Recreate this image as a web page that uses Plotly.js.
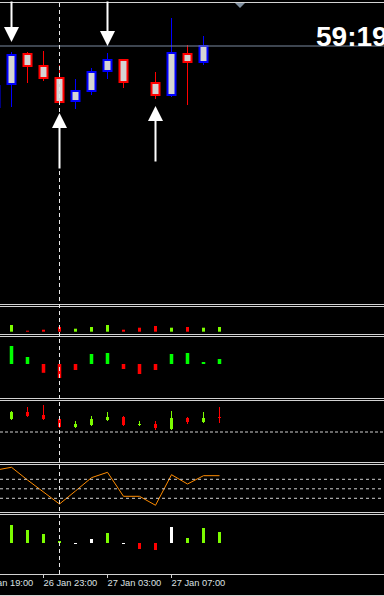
<!DOCTYPE html>
<html><head><meta charset="utf-8">
<script src="https://cdn.plot.ly/plotly-3.0.1.min.js"></script>
<style>html,body{margin:0;padding:0;background:#000;overflow:hidden}#chart{width:384px;height:596px}</style>
</head><body><div id="chart"></div>
<script>
// ---------- DATA ----------
const times = ['2026-01-26 20:00','2026-01-26 21:00','2026-01-26 22:00','2026-01-26 23:00','2026-01-27 00:00','2026-01-27 01:00','2026-01-27 02:00','2026-01-27 03:00','2026-01-27 04:00','2026-01-27 05:00','2026-01-27 06:00','2026-01-27 07:00','2026-01-27 08:00','2026-01-27 09:00','2026-01-27 10:00'];

// main price candles
const open  = [151.97,152.20,152.50,152.38,152.26,152.03,152.13,152.33,152.44,null,152.21,152.09,152.50,152.42,null];
const high  = [152.18,152.52,152.52,152.53,152.39,152.25,152.36,152.51,152.45,null,152.32,152.86,152.59,152.68,null];
const low   = [151.97,151.97,152.21,152.23,152.02,151.95,152.09,152.25,152.16,null,152.05,152.07,151.99,152.39,null];
const close = [152.18,152.49,152.38,152.26,152.02,152.13,152.32,152.44,152.22,null,152.09,152.51,152.42,152.58,null];
const bidPrice = 152.58;

// signal arrows
const sellTimes  = ['2026-01-26 21:00','2026-01-27 03:00'];
const sellPrices = [152.62,152.58];
const buyTimes   = ['2026-01-27 00:00','2026-01-27 06:00'];
const buyPrices  = [151.91,151.98];

// pane 1: signed volume
const pane1 = [null,67,-10,-20,-47,30,47,67,-20,-40,-57,40,-47,40,47];
// pane 2: histogram
const pane2 = [null,9,3.5,-4.4,-7,-3,5,5.5,-2.5,-5,-3,5,5.5,1,2.5];
// pane 3: small candles
const o3 = [null,13,20,17,13,5,7,12,15,7,8,3,14,10,15];
const h3 = [null,21,25,27,14,11,16,20,16,11,11,21,15,20,25];
const l3 = [null,12,15,12,4,4,6,11,6,6,2,2,8,9,9];
const c3 = [null,20,16,13,5,8,13,15,7,8,4,14,10,14,14];
const pane3Level = [0];
// pane 4: oscillator
const pane4 = [89.2,95.3,68.5,43.3,18.0,45.4,73.4,84.7,34.2,34.2,15.3,79.7,60.1,77.6,77.6];
const pane4Levels = [30,50,70];
// pane 5: bars with state
const pane5 = [null,18,13,9,2,-1,4,10,-1,-6,-7,16,5,15,11];
const pane5State = [null,'up','up','up','up','flat','flat','up','flat','down','down','flat','up','up','up'];

const separator = '2026-01-27 00:00';
const tickTimes  = ['2026-01-26 19:00','2026-01-26 23:00','2026-01-27 03:00','2026-01-27 07:00'];
const tickLabels = ['26 Jan 19:00','26 Jan 23:00','27 Jan 03:00','27 Jan 07:00'];
const timerText = '59:19';

// ---------- BUILD ----------
const HOUR = 3600000, H = 596;
const dom = (top, bot) => [1 - bot / H, 1 - top / H];
const py = px => 1 - (px + 0.5) / H;

function bodies(o, c, up) {
  const x = [], y = [], b = [];
  times.forEach((t, i) => {
    if (o[i] == null) return;
    if ((c[i] >= o[i]) !== up) return;
    x.push(t); y.push(Math.abs(c[i] - o[i])); b.push(Math.min(o[i], c[i]));
  });
  return {x, y, base: b};
}
function wicks(o, h, l, c, up, split) {
  const x = [], y = [];
  times.forEach((t, i) => {
    if (o[i] == null) return;
    if ((c[i] >= o[i]) !== up) return;
    const top = Math.max(o[i], c[i]), bot = Math.min(o[i], c[i]);
    if (split) { x.push(t, t, null, t, t, null); y.push(h[i], top, null, bot, l[i], null); }
    else { x.push(t, t, null); y.push(h[i], l[i], null); }
  });
  return {x, y};
}

const BLUE = '#0000FF', RED = '#FF0000', FILL = '#D4D4D4', LGREEN = '#7CFC00', GREEN = '#00FF00';
const traces = [];
// main wicks then bodies
[[true, BLUE], [false, RED]].forEach(([up, col]) => {
  const w = wicks(open, high, low, close, up, true);
  traces.push({type:'scatter', mode:'lines', x:w.x, y:w.y, xaxis:'x', yaxis:'y', line:{color:col, width:1}, hoverinfo:'skip', showlegend:false});
  const b = bodies(open, close, up);
  traces.push({type:'bar', x:b.x, y:b.y, base:b.base, width:0.5*HOUR, xaxis:'x', yaxis:'y',
    marker:{color:FILL, line:{color:col, width:2}}, hoverinfo:'skip', showlegend:false});
});
// pane 1
traces.push({type:'bar', x:times, y:pane1.map(v => v == null ? null : Math.abs(v)), width:0.1875*HOUR, xaxis:'x', yaxis:'y2',
  marker:{color:pane1.map(v => v >= 0 ? LGREEN : RED), line:{width:0}}, hoverinfo:'skip', showlegend:false});
// pane 2
traces.push({type:'bar', x:times, y:pane2, width:0.22*HOUR, xaxis:'x', yaxis:'y3',
  marker:{color:pane2.map(v => v >= 0 ? GREEN : RED), line:{width:0}}, hoverinfo:'skip', showlegend:false});
// pane 3
[[true, LGREEN], [false, RED]].forEach(([up, col]) => {
  const w = wicks(o3, h3, l3, c3, up, false);
  traces.push({type:'scatter', mode:'lines', x:w.x, y:w.y, xaxis:'x', yaxis:'y4', line:{color:col, width:1}, hoverinfo:'skip', showlegend:false});
  const b = bodies(o3, c3, up);
  traces.push({type:'bar', x:b.x, y:b.y, base:b.base, width:0.1875*HOUR, xaxis:'x', yaxis:'y4',
    marker:{color:col, line:{width:0}}, hoverinfo:'skip', showlegend:false});
});
// pane 4
traces.push({type:'scatter', mode:'lines', x:times, y:pane4, xaxis:'x', yaxis:'y5', line:{color:'#FF8C00', width:1}, hoverinfo:'skip', showlegend:false});
// pane 5
const stateCol = {up:LGREEN, down:RED, flat:'#FFFFFF'};
traces.push({type:'bar', x:times, y:pane5, width:0.1875*HOUR, xaxis:'x', yaxis:'y6',
  marker:{color:pane5State.map(s => s ? stateCol[s] : LGREEN), line:{width:0}}, hoverinfo:'skip', showlegend:false});
// time labels
traces.push({type:'scatter', mode:'text', x:tickTimes, y:tickTimes.map(() => 0), text:tickLabels, textposition:'middle right',
  textfont:{family:'Liberation Sans, Arial, sans-serif', size:9.3, color:'#DCE0E4'}, xaxis:'x', yaxis:'y7', cliponaxis:true, hoverinfo:'skip', showlegend:false});

const yax = (d, r) => ({domain:d, range:r, visible:false, fixedrange:true, anchor:'x'});

const shapes = [];
[2, 304, 306, 334, 336, 398, 400, 462, 464, 512, 514, 574, 595].forEach(px => {
  shapes.push({type:'line', xref:'paper', yref:'paper', x0:0, x1:1, y0:py(px), y1:py(px), line:{color:'#D2D2D2', width:1}});
});
shapes.push({type:'line', xref:'paper', yref:'y', x0:0, x1:1, y0:bidPrice, y1:bidPrice, line:{color:'#7A8AA0', width:1}});
shapes.push({type:'line', xref:'x', yref:'paper', x0:separator, x1:separator, y0:1 - 574/H, y1:1, line:{color:'#E6E6E6', width:1, dash:'4px,3px'}});
pane3Level.forEach(v => shapes.push({type:'line', xref:'paper', yref:'y4', x0:0, x1:1, y0:v, y1:v, line:{color:'#D0D0D0', width:1, dash:'3px,2px'}}));
pane4Levels.forEach(v => shapes.push({type:'line', xref:'paper', yref:'y5', x0:0, x1:1, y0:v, y1:v, line:{color:'#D0D0D0', width:1, dash:'3px,3px'}}));
// chart-shift marker
shapes.push({type:'path', xref:'paper', yref:'paper', path:`M${235/384},${1-3/H} L${245/384},${1-3/H} L${240/384},${1-8/H} Z`, fillcolor:'#8090A0', line:{width:0}});

const annotations = [];
sellTimes.forEach((t, i) => annotations.push({x:t, y:sellPrices[i], xref:'x', yref:'y', text:'', showarrow:true, ax:0, ay:-50,
  arrowcolor:'#FFFFFF', arrowwidth:2, arrowhead:2, arrowsize:1.5, standoff:0}));
buyTimes.forEach((t, i) => annotations.push({x:t, y:buyPrices[i], xref:'x', yref:'y', text:'', showarrow:true, ax:0, ay:57,
  arrowcolor:'#FFFFFF', arrowwidth:2, arrowhead:2, arrowsize:1.5, standoff:0}));
annotations.push({xref:'paper', yref:'paper', x:314/384, y:1 - 36/H, xanchor:'left', yanchor:'middle', showarrow:false,
  text:'<b>' + timerText + '</b>', font:{family:'Liberation Sans Narrow, Liberation Sans, Arial, sans-serif', size:28, color:'#FFFFFF'}});

const layout = {
  width:384, height:596, margin:{l:0, r:0, t:0, b:0},
  paper_bgcolor:'#000', plot_bgcolor:'#000', showlegend:false, barmode:'overlay', hovermode:false,
  xaxis:{type:'date', range:['2026-01-26 20:16:52.5','2026-01-27 20:16:52.5'], anchor:'y6', showgrid:false, zeroline:false, showline:false,
    tickvals:tickTimes, showticklabels:false, ticks:'outside', ticklen:3, tickcolor:'#CFCFCF', tickwidth:1, fixedrange:true},
  yaxis:  yax(dom(0, 304), [150.00, 153.04]),
  yaxis2: yax(dom(306, 334), [-23, 257]),
  yaxis3: yax(dom(336, 398), [-17, 14]),
  yaxis4: yax(dom(400, 462), [-30, 32]),
  yaxis5: yax(dom(464, 512), [1.16, 102.2]),
  yaxis6: yax(dom(514, 574), [-31, 29]),
  yaxis7: yax(dom(574, 596), [-0.559, 0.441]),
  shapes, annotations
};
Plotly.newPlot('chart', traces, layout, {staticPlot:true, displayModeBar:false});
</script></body></html>
